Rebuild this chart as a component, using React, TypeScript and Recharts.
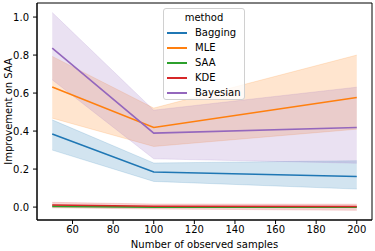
import {
  ComposedChart,
  Line,
  Area,
  XAxis,
  YAxis,
  ReferenceArea,
  Label,
} from "recharts";

// observed sample counts
const samples = [50, 100, 200];

// mean improvement per method
const bagging = [0.384, 0.185, 0.161];
const mle = [0.632, 0.419, 0.577];
const saa = [0.004, 0.0, 0.0];
const kde = [0.011, 0.004, 0.003];
const bayesian = [0.837, 0.389, 0.419];

// confidence bands (low / high)
const baggingLo = [0.3, 0.135, 0.095];
const baggingHi = [0.459, 0.232, 0.244];
const mleLo = [0.468, 0.319, 0.41];
const mleHi = [0.793, 0.521, 0.8];
const saaLo = [-0.002, -0.003, -0.003];
const saaHi = [0.01, 0.003, 0.003];
const kdeLo = [-0.004, -0.01, -0.017];
const kdeHi = [0.025, 0.016, 0.015];
const bayesianLo = [0.67, 0.254, 0.231];
const bayesianHi = [1.024, 0.51, 0.631];

const xTicks = [60, 80, 100, 120, 140, 160, 180, 200];
const yTicks = [0, 0.2, 0.4, 0.6, 0.8, 1.0];

const series = [
  { key: "Bagging", mean: bagging, lo: baggingLo, hi: baggingHi, color: "#1f77b4" },
  { key: "MLE", mean: mle, lo: mleLo, hi: mleHi, color: "#ff7f0e" },
  { key: "SAA", mean: saa, lo: saaLo, hi: saaHi, color: "#2ca02c" },
  { key: "KDE", mean: kde, lo: kdeLo, hi: kdeHi, color: "#d62728" },
  { key: "Bayesian", mean: bayesian, lo: bayesianLo, hi: bayesianHi, color: "#9467bd" },
];

const data = samples.map((n, i) => {
  const row: any = { n };
  series.forEach((s) => {
    row[s.key] = s.mean[i];
    row[s.key + "_band"] = [s.lo[i], s.hi[i]];
  });
  return row;
});

const font = "'DejaVu Sans', sans-serif";
const xDomain = [42.5, 207.5];
const yDomain = [-0.068, 1.074];

function LegendBox() {
  return (
    <div
      style={{
        position: "absolute",
        left: 163,
        top: 8,
        width: 80,
        height: 90,
        border: "1px solid #d0d0d0",
        borderRadius: 3,
        background: "rgba(255,255,255,0.8)",
        fontFamily: font,
        fontSize: 10,
        color: "#000",
      }}
    >
      <div style={{ textAlign: "center", height: 15, lineHeight: "15px", marginTop: 1 }}>method</div>
      {series.map((s) => (
        <div key={s.key} style={{ display: "flex", alignItems: "center", height: 15 }}>
          <span style={{ display: "inline-block", width: 20, height: 2, background: s.color, marginLeft: 3, marginRight: 8 }} />
          <span>{s.key}</span>
        </div>
      ))}
    </div>
  );
}

function YTitle(props: any) {
  const vb = props.viewBox;
  const cx = 8;
  const cy = vb.y + vb.height / 2;
  return (
    <text
      x={cx}
      y={cy}
      transform={`rotate(-90 ${cx} ${cy})`}
      textAnchor="middle"
      dominantBaseline="central"
      fill="#000"
      fontSize={10}
      fontFamily={font}
    >
      Improvement on SAA
    </text>
  );
}

function XTitle(props: any) {
  const vb = props.viewBox;
  return (
    <text
      x={vb.x + vb.width / 2}
      y={248}
      textAnchor="middle"
      fill="#000"
      fontSize={10}
      fontFamily={font}
    >
      Number of observed samples
    </text>
  );
}

export default function App() {
  return (
    <div style={{ position: "absolute", left: 0, top: 0, width: 375, height: 251 }}>
      <ComposedChart
        width={375}
        height={251}
        data={data}
        margin={{ top: 3, right: 3, left: 0, bottom: 0 }}
      >
        <XAxis
          dataKey="n"
          type="number"
          domain={xDomain}
          allowDataOverflow
          ticks={xTicks}
          height={31}
          tickSize={4}
          tickMargin={2}
          stroke="#000"
          tick={{ fill: "#000", fontSize: 10, fontFamily: font }}
        >
          <Label content={XTitle} />
        </XAxis>
        <YAxis
          type="number"
          domain={yDomain}
          allowDataOverflow
          ticks={yTicks}
          width={37}
          tickSize={4}
          tickMargin={4}
          stroke="#000"
          tickFormatter={(v: number) => v.toFixed(1)}
          tick={{ fill: "#000", fontSize: 10, fontFamily: font }}
        >
          <Label content={YTitle} />
        </YAxis>
        <ReferenceArea
          x1={xDomain[0]}
          x2={xDomain[1]}
          y1={yDomain[0]}
          y2={yDomain[1]}
          fill="none"
          stroke="#000"
          strokeWidth={1}
        />
        {series.map((s) => (
          <Area
            key={s.key + "_band"}
            dataKey={s.key + "_band"}
            type="linear"
            stroke={s.color}
            strokeOpacity={0.2}
            strokeWidth={0.8}
            fill={s.color}
            fillOpacity={0.2}
            isAnimationActive={false}
          />
        ))}
        {series.map((s) => (
          <Line
            key={s.key}
            dataKey={s.key}
            type="linear"
            stroke={s.color}
            strokeWidth={1.6}
            dot={false}
            activeDot={false}
            isAnimationActive={false}
          />
        ))}
      </ComposedChart>
      <LegendBox />
    </div>
  );
}
